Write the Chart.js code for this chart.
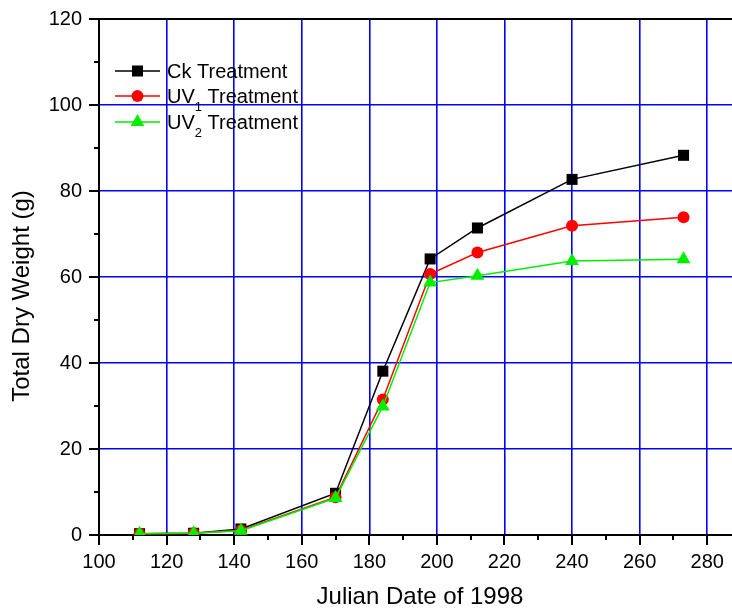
<!DOCTYPE html>
<html>
<head>
<meta charset="utf-8">
<script src="https://cdn.jsdelivr.net/npm/chart.js@4/dist/chart.umd.min.js"></script>
<style>
    html, body { margin: 0; padding: 0; overflow: hidden; background: #fff; }
    #wrap { width: 749px; height: 609px; }
</style>
</head>
<body>
<div id="wrap"><canvas id="dry-weight" width="749" height="609"></canvas></div>
<script>
// Data
var julianDays = [112, 128, 142, 170, 184, 198, 212, 240, 273];
var ckWeight  = [0.3, 0.4, 1.4, 9.7, 38.1, 64.2, 71.4, 82.7, 88.3];
var uv1Weight = [0.3, 0.4, 1.1, 8.8, 31.5, 60.7, 65.7, 71.9, 73.9];
var uv2Weight = [0.3, 0.4, 1.0, 8.6, 29.9, 58.7, 60.3, 63.7, 64.1];
var seriesLabels = ["Ck Treatment", "UV1 Treatment", "UV2 Treatment"];
var yTitle = "Total Dry Weight (g)";
var xTitle = "Julian Date of 1998";

var FONT = '"Liberation Sans", Arial, sans-serif';
var GRID_BLUE = "#0000ff";

function toPoints(ys) {
    return julianDays.map(function (d, i) { return { x: d, y: ys[i] }; });
}

// draw a marker like the ones the chart uses
function drawMarker(ctx, style, color, x, y) {
    ctx.fillStyle = color;
    ctx.beginPath();
    if (style === "rect") {
        ctx.rect(x - 5.5, y - 5.5, 11, 11);
    } else if (style === "circle") {
        ctx.arc(x, y, 6, 0, Math.PI * 2);
    } else {
        ctx.moveTo(x, y - 8);
        ctx.lineTo(x + 6.9, y + 4);
        ctx.lineTo(x - 6.9, y + 4);
        ctx.closePath();
    }
    ctx.fill();
}

// Ticks, top frame, y title and the legend box
var axisDecor = {
    id: "axisDecor",
    afterDraw: function (chart) {
        var ctx = chart.ctx, a = chart.chartArea;
        var x = chart.scales.x, y = chart.scales.y;
        ctx.save();
        ctx.strokeStyle = "#000";
        ctx.lineWidth = 2;

        ctx.beginPath();
        ctx.moveTo(a.left - 1, a.top);
        ctx.lineTo(a.right, a.top);
        ctx.stroke();

        ctx.beginPath();
        x.ticks.forEach(function (t) {
            var px = Math.round(x.getPixelForValue(t.value));
            var len = t.value % 20 === 0 ? 10 : 5;
            ctx.moveTo(px, a.bottom);
            ctx.lineTo(px, a.bottom + len);
        });
        y.ticks.forEach(function (t) {
            var py = Math.round(y.getPixelForValue(t.value));
            var len = t.value % 20 === 0 ? 10 : 5;
            ctx.moveTo(a.left, py);
            ctx.lineTo(a.left - len, py);
        });
        ctx.stroke();

        // y axis title, sits a bit below the middle of the axis
        ctx.save();
        ctx.translate(22, (a.top + a.bottom) / 2 + 19);
        ctx.rotate(-Math.PI / 2);
        ctx.fillStyle = "#000";
        ctx.font = "24px " + FONT;
        ctx.textAlign = "center";
        ctx.textBaseline = "middle";
        ctx.fillText(yTitle, 0, 0);
        ctx.restore();

        // legend
        var rows = [52, 77, 103];
        chart.data.datasets.forEach(function (ds, i) {
            var ry = a.top + rows[i];
            var lx = a.left + 16;
            ctx.strokeStyle = ds.borderColor;
            ctx.lineWidth = 1.5;
            ctx.beginPath();
            ctx.moveTo(lx, ry);
            ctx.lineTo(lx + 45, ry);
            ctx.stroke();
            drawMarker(ctx, ds.pointStyle, ds.backgroundColor, lx + 22.5, ry);

            ctx.fillStyle = "#000";
            ctx.textBaseline = "alphabetic";
            ctx.textAlign = "left";
            var tx = lx + 52, base = ry + 7;
            var label = seriesLabels[i];
            var m = label.match(/^(UV)(\d)( .*)$/);
            ctx.font = "20px " + FONT;
            if (m) {
                ctx.fillText(m[1], tx, base);
                tx += ctx.measureText(m[1]).width;
                ctx.font = "13px " + FONT;
                ctx.fillText(m[2], tx, base + 8);
                tx += ctx.measureText(m[2]).width;
                ctx.font = "20px " + FONT;
                ctx.fillText(m[3], tx, base);
            } else {
                ctx.fillText(label, tx, base);
            }
        });
        ctx.restore();
    }
};

var ctx = document.getElementById("dry-weight").getContext("2d");
var myChart = new Chart(ctx, {
    type: "line",
    data: {
        datasets: [{
            label: seriesLabels[0],
            data: toPoints(ckWeight),
            borderColor: "#000000",
            backgroundColor: "#000000",
            pointStyle: "rect",
            pointRadius: 7.8,
            order: 2
        },
        {
            label: seriesLabels[1],
            data: toPoints(uv1Weight),
            borderColor: "#ff0000",
            backgroundColor: "#ff0000",
            pointStyle: "circle",
            pointRadius: 6,
            order: 1
        },
        {
            label: seriesLabels[2],
            data: toPoints(uv2Weight),
            borderColor: "#00ee00",
            backgroundColor: "#00ee00",
            pointStyle: "triangle",
            pointRadius: 8,
            order: 0
        }
        ]
    },
    options: {
        responsive: false,
        animation: false,
        events: [],
        datasets: {
            line: { borderWidth: 1.5, pointBorderWidth: 0, tension: 0, fill: false }
        },
        layout: { padding: { top: 19, right: 0, left: 0, bottom: 0 } },
        plugins: { legend: { display: false }, tooltip: { enabled: false } },
        scales: {
            x: {
                type: "linear",
                min: 100,
                max: 290,
                afterFit: function (s) {
                    s.height = 74;
                    s.paddingLeft = 0;
                    s.paddingRight = 0;
                },
                border: { display: true, color: "#000", width: 2 },
                grid: {
                    drawTicks: false,
                    lineWidth: 1.6,
                    color: function (c) {
                        var v = c.tick.value;
                        return (v % 20 === 0 && v > 100 && v < 290) ? GRID_BLUE : "rgba(0,0,0,0)";
                    }
                },
                ticks: {
                    stepSize: 10,
                    autoSkip: false,
                    maxRotation: 0,
                    padding: 15,
                    color: "#000",
                    font: { family: FONT, size: 20 },
                    callback: function (v) { return (v % 20 === 0 && v <= 280) ? v : ""; }
                },
                title: {
                    display: true,
                    text: xTitle,
                    color: "#000",
                    font: { family: FONT, size: 24, lineHeight: 1 },
                    padding: { top: 0, bottom: 0 }
                }
            },
            y: {
                min: 0,
                max: 120,
                afterFit: function (s) {
                    s.width = 99;
                    s.paddingTop = 0;
                    s.paddingBottom = 0;
                },
                border: { display: true, color: "#000", width: 2 },
                grid: {
                    drawTicks: false,
                    lineWidth: 1.6,
                    color: function (c) {
                        var v = c.tick.value;
                        return (v % 20 === 0 && v > 0 && v < 120) ? GRID_BLUE : "rgba(0,0,0,0)";
                    }
                },
                ticks: {
                    stepSize: 10,
                    autoSkip: false,
                    padding: 17,
                    color: "#000",
                    font: { family: FONT, size: 20 },
                    callback: function (v) { return v % 20 === 0 ? v : ""; }
                }
            }
        }
    },
    plugins: [axisDecor]
});
</script>
</body>
</html>
